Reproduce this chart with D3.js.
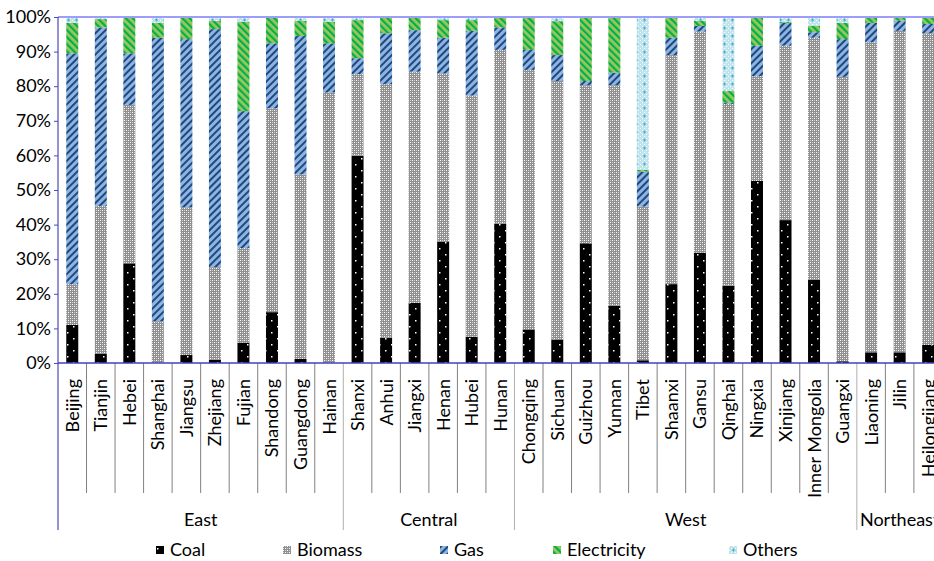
<!DOCTYPE html>
<html>
<head>
<meta charset="utf-8">
<script src="https://cdn.jsdelivr.net/npm/d3@7"></script>
<style>
  html, body { margin: 0; padding: 0; background: #fff; }
  svg { display: block; }
  text { font-family: Lato, "Open Sans", sans-serif; fill: #000; }
</style>
</head>
<body>
<svg id="chart" width="934" height="561"></svg>
<script>
const categories = ["Beijing","Tianjin","Hebei","Shanghai","Jiangsu","Zhejiang","Fujian","Shandong","Guangdong","Hainan",
  "Shanxi","Anhui","Jiangxi","Henan","Hubei","Hunan",
  "Chongqing","Sichuan","Guizhou","Yunnan","Tibet","Shaanxi","Gansu","Qinghai","Ningxia","Xinjiang","Inner Mongolia","Guangxi",
  "Liaoning","Jilin","Heilongjiang"];
const regions = [
  {name: "East", first: "Beijing", last: "Hainan"},
  {name: "Central", first: "Shanxi", last: "Hunan"},
  {name: "West", first: "Chongqing", last: "Guangxi"},
  {name: "Northeast", first: "Liaoning", last: "Heilongjiang"}
];
const seriesNames = ["Coal","Biomass","Gas","Electricity","Others"];
const coal =        [11.0, 2.6,28.8, 0.0, 2.3, 0.9, 5.9,14.7, 1.2, 0.0, 59.9, 7.3,17.4,35.1, 7.6,40.2, 9.7, 6.8,34.6,16.5, 0.8,22.8,31.9,22.3,52.6,41.3,24.0, 0.5, 3.1, 3.1, 5.2];
const biomass =     [11.8,42.8,45.8,12.1,42.7,26.8,27.3,58.9,53.3,78.2, 23.6,73.3,66.8,48.6,69.7,50.3,75.0,74.7,45.7,63.8,44.4,66.2,63.9,52.6,30.3,50.4,70.0,82.2,89.6,92.9,90.1];
const gas =         [66.7,51.6,14.9,81.9,48.6,68.8,39.6,18.8,40.0,14.2, 4.6,14.7,12.0,10.3,18.7, 6.5, 5.8, 7.5, 1.2, 3.6,10.1, 5.0, 1.6, 0.3, 8.8, 6.6, 1.6,10.9, 5.6, 2.9, 2.7];
const electricity = [ 8.8, 2.4,10.5, 4.3, 6.4, 2.4,25.8, 7.6, 4.4, 6.2, 11.0, 4.7, 3.8, 5.1, 3.1, 3.0, 9.5, 9.8,18.5,16.1, 0.5, 6.0, 1.5, 3.4, 8.3, 0.3, 1.8, 4.7, 1.7, 1.1, 2.0];
const others =      [ 1.7, 0.6, 0.0, 1.7, 0.0, 1.1, 1.4, 0.0, 1.1, 1.4,  0.9, 0.0, 0.0, 0.9, 0.9, 0.0, 0.0, 1.2, 0.0, 0.0,44.2, 0.0, 1.1,21.4, 0.0, 1.4, 2.6, 1.7, 0.0, 0.0, 0.0];
const yTicks = [0,10,20,30,40,50,60,70,80,90,100];

(function () {
const svg = d3.select("#chart");
const defs = svg.append("defs");

function pat(id, w, h, transform) {
  const p = defs.append("pattern").attr("id", id).attr("patternUnits", "userSpaceOnUse")
    .attr("width", w).attr("height", h);
  if (transform) p.attr("patternTransform", transform);
  return p;
}
// Coal: black with white dots
let p = pat("p-coal", 12, 12);
p.append("rect").attr("width", 12).attr("height", 12).attr("fill", "#000");
p.append("rect").attr("x", 1).attr("y", 2).attr("width", 1.5).attr("height", 1.5).attr("fill", "#fff");
p.append("rect").attr("x", 7).attr("y", 8).attr("width", 1.5).attr("height", 1.5).attr("fill", "#fff");
// Biomass: gray texture
p = pat("p-biomass", 4, 4);
p.append("rect").attr("width", 4).attr("height", 4).attr("fill", "#8f8f8f");
p.append("rect").attr("x", 0).attr("y", 0).attr("width", 1).attr("height", 1).attr("fill", "#ffffff");
p.append("rect").attr("x", 2).attr("y", 2).attr("width", 1).attr("height", 1).attr("fill", "#ffffff");
p.append("rect").attr("x", 2).attr("y", 0).attr("width", 1).attr("height", 1).attr("fill", "#cfcfcf");
p.append("rect").attr("x", 0).attr("y", 2).attr("width", 1).attr("height", 1).attr("fill", "#cfcfcf");
// Gas: light blue with dark "/" stripes
p = pat("p-gas", 5, 5, "rotate(45)");
p.append("rect").attr("width", 5).attr("height", 5).attr("fill", "#8db4e2");
p.append("rect").attr("width", 2).attr("height", 5).attr("fill", "#1f497d");
// Electricity: yellow-green with green "\" stripes
p = pat("p-elec", 5, 5, "rotate(-45)");
p.append("rect").attr("width", 5).attr("height", 5).attr("fill", "#9bc75a");
p.append("rect").attr("width", 2.2).attr("height", 5).attr("fill", "#00b050");
// Others: light cyan checker with plus marks
p = pat("p-others", 8, 8);
p.append("rect").attr("width", 8).attr("height", 8).attr("fill", "#bfe4ee");
[[0,0],[2,2],[4,0],[6,2],[0,4],[2,6],[4,4],[6,6]].forEach(([px,py]) =>
  p.append("rect").attr("x", px).attr("y", py).attr("width", 1).attr("height", 1).attr("fill", "#ffffff"));
p.append("rect").attr("x", 4).attr("y", 2.5).attr("width", 1).attr("height", 3).attr("fill", "#4bacc6");
p.append("rect").attr("x", 3).attr("y", 3.5).attr("width", 3).attr("height", 1).attr("fill", "#4bacc6");

const fills = {Coal: "url(#p-coal)", Biomass: "url(#p-biomass)", Gas: "url(#p-gas)", Electricity: "url(#p-elec)", Others: "url(#p-others)"};

const plotLeft = 58, plotTop = 17, plotBottom = 363;
const step = 28.53;
const x = d3.scaleBand().domain(categories)
  .range([plotLeft, plotLeft + step * categories.length])
  .paddingInner(0.58).paddingOuter(0.29);
const y = d3.scaleLinear().domain([0, 100]).range([plotBottom, plotTop]);

const rows = categories.map((c, i) => ({
  cat: c, Coal: coal[i], Biomass: biomass[i], Gas: gas[i], Electricity: electricity[i], Others: others[i]
}));
const stacked = d3.stack().keys(seriesNames)(rows);

svg.append("g").selectAll("g").data(stacked).join("g")
  .attr("fill", d => fills[d.key])
  .selectAll("rect").data(d => d).join("rect")
  .attr("x", d => x(d.data.cat))
  .attr("width", x.bandwidth())
  .attr("y", d => y(d[1]))
  .attr("height", d => Math.max(0, y(d[0]) - y(d[1])));

svg.append("line").attr("x1", plotLeft).attr("x2", 934).attr("y1", y(100)).attr("y2", y(100))
  .attr("stroke", "#9d9dfa").attr("stroke-width", 2);

const yAxis = d3.axisLeft(y).tickValues(yTicks).tickFormat(d => d + "%").tickSize(4).tickSizeOuter(0);
const gy = svg.append("g").attr("transform", `translate(${plotLeft},0)`).call(yAxis);
gy.select(".domain").remove();
gy.selectAll(".tick line").attr("stroke", "#4a4ab8");
gy.selectAll(".tick text").attr("x", -7).attr("font-size", 18).attr("font-family", "Lato, sans-serif").attr("fill", "#000");
svg.append("line").attr("x1", plotLeft).attr("x2", plotLeft).attr("y1", plotTop).attr("y2", 530)
  .attr("stroke", "#4a4ab8").attr("stroke-width", 1.2);

const bounds = d3.range(1, categories.length + 1).map(i => plotLeft + step * i);
const groupIdx = new Set(regions.map(r => categories.indexOf(r.last) + 1));
svg.append("g").selectAll("line").data(bounds).join("line")
  .attr("x1", d => d).attr("x2", d => d)
  .attr("y1", plotBottom).attr("y2", (d, i) => groupIdx.has(i + 1) ? 530 : 493)
  .attr("stroke", (d, i) => groupIdx.has(i + 1) ? "#b0b0b0" : "#808080").attr("stroke-width", 1);

svg.append("line").attr("x1", plotLeft).attr("x2", 934).attr("y1", plotBottom).attr("y2", plotBottom)
  .attr("stroke", "#4040c0").attr("stroke-width", 1.5);

svg.append("g").selectAll("text").data(categories).join("text")
  .attr("transform", d => `translate(${x(d) + x.bandwidth() / 2},379) rotate(-90)`)
  .attr("text-anchor", "end").attr("dy", "0.36em")
  .attr("font-size", 18).text(d => d);

svg.append("g").selectAll("text").data(regions).join("text")
  .attr("x", r => (x(r.first) - x.step() * x.paddingOuter() + x(r.last) + x.bandwidth() + x.step() * x.paddingOuter()) / 2)
  .attr("y", 526).attr("text-anchor", "middle").attr("font-size", 18).text(r => r.name);

const legendX = [156, 283, 440, 553, 729];
const lg = svg.append("g").selectAll("g").data(seriesNames).join("g")
  .attr("transform", (d, i) => `translate(${legendX[i]},546)`);
lg.append("rect").attr("width", 8).attr("height", 8).attr("fill", d => fills[d]);
lg.append("text").attr("x", 14).attr("y", 4).attr("dy", "0.36em").attr("font-size", 18).text(d => d);
})();
</script>
</body>
</html>
